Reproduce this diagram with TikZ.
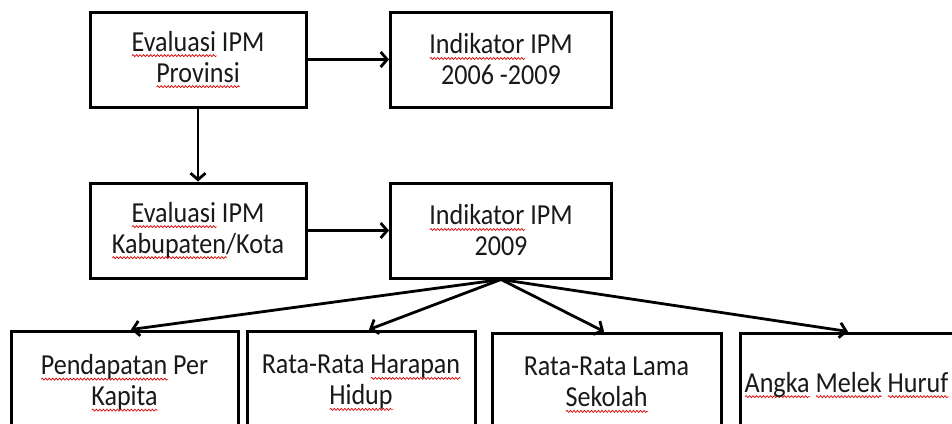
\documentclass[tikz,border=0pt]{standalone}
\usepackage{fontspec}
\setmainfont[FakeStretch=0.9]{Carlito}
\usetikzlibrary{arrows.meta,decorations.pathmorphing}
\newsavebox\sqbox
\newcommand\sq[1]{\sbox\sqbox{#1}\leavevmode\rlap{\raisebox{-4.5pt}{\tikz[baseline=0pt,x=1cm,y=1cm]\draw[red!85!black,line width=0.7pt,decorate,decoration={snake,amplitude=1pt,segment length=3.5pt}] (0pt,0pt) -- (\wd\sqbox,0pt);}}\usebox\sqbox}
\tikzset{
  box/.style={draw=black, line width=3pt, align=center, inner sep=0pt,
    font=\fontsize{29pt}{31pt}\selectfont, text=black!90},
  arr/.style={line width=2.8pt, -{Straight Barb[length=6.5pt,width=15pt]}}
}
\begin{document}
\begin{tikzpicture}[x=1pt,y=-1pt]
\useasboundingbox (0,0) rectangle (952,423);
\clip (0,0) rectangle (952,423);
\node[box, minimum width=216pt, minimum height=95pt] (b1) at (198,59.5) {\sq{Evaluasi} IPM\\\sq{Provinsi}};
\node[box, minimum width=221pt, minimum height=95pt] (b2) at (501,59.5) {\sq{Indikator} IPM\\2006 -2009};
\node[box, minimum width=216pt, minimum height=95pt] (b3) at (198,230.5) {\sq{Evaluasi} IPM\\\sq{Kabupaten}/Kota};
\node[box, minimum width=221pt, minimum height=95pt] (b4) at (501,230.5) {\sq{Indikator} IPM\\2009};
\node[box, minimum width=227pt, minimum height=104pt] (b5) at (124.5,383) {\sq{Pendapatan} Per\\\sq{Kapita}};
\node[box, minimum width=228pt, minimum height=104pt] (b6) at (361,383) {Rata-Rata \sq{Harapan}\\\sq{Hidup}};
\node[box, minimum width=229pt, minimum height=104pt] (b7) at (606.5,385) {Rata-Rata Lama\\\sq{Sekolah}};
\node[box, minimum width=213pt, minimum height=104pt] (b8) at (846.5,385) {\sq{Angka} \sq{Melek} \sq{Huruf}};
\draw[arr] (b1.east) -- (b2.west);
\draw[arr] (b1.south) -- (b3.north);
\draw[arr] (b3.east) -- (b4.west);
\draw[arr] (b4.south) -- ([xshift=6.5pt]b5.north);
\draw[arr] (b4.south) -- ([xshift=8pt]b6.north);
\draw[arr] (b4.south) -- ([xshift=-2.5pt]b7.north);
\draw[arr] (b4.south) -- ([xshift=1.5pt]b8.north);
\end{tikzpicture}
\end{document}
